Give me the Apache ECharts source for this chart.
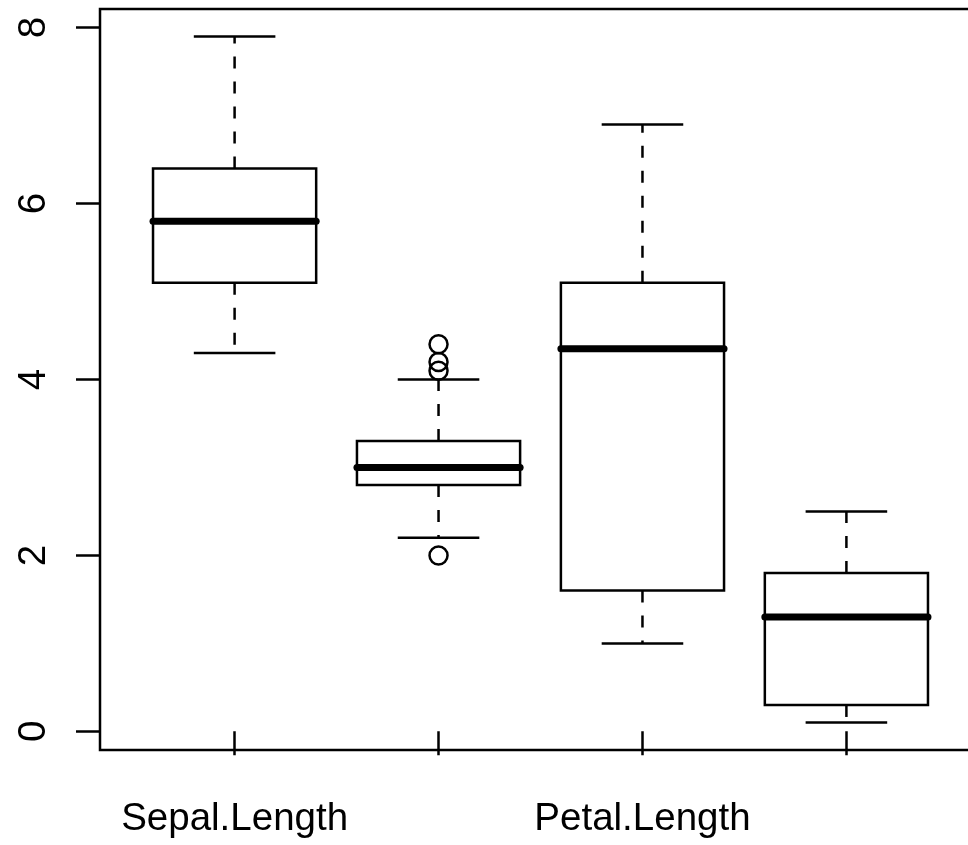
<!DOCTYPE html>
<html>
<head>
<meta charset="utf-8">
<title>Iris measurements</title>
<script src="https://cdn.jsdelivr.net/npm/echarts@6/dist/echarts.min.js"></script>
<style>
  html, body { margin: 0; padding: 0; background: #fff; overflow: hidden; }
  /* The plot frame runs past the right edge of the window, so the canvas is wider */
  #chart { width: 1000px; height: 845px; }
</style>
</head>
<body>
<div id="chart"></div>
<script>
// Variable names along the x axis
const categories = ['Sepal.Length', 'Sepal.Width', 'Petal.Length', 'Petal.Width'];
// Only every other name fits under its box
const shownLabels = [1, 3];
// Five-number summaries: lower whisker, Q1, median, Q3, upper whisker
const lowerWhisker = [4.3, 2.2, 1.0, 0.1];
const lowerQuartile = [5.1, 2.8, 1.6, 0.3];
const medians = [5.8, 3.0, 4.35, 1.3];
const upperQuartile = [6.4, 3.3, 5.1, 1.8];
const upperWhisker = [7.9, 4.0, 6.9, 2.5];
// Points beyond the whiskers: [position, value]
const outliers = [[2, 4.4], [2, 4.1], [2, 4.2], [2, 2.0]];
// Y axis tick labels
const yTicks = [0, 2, 4, 6, 8];

const FONT = '"Liberation Sans", Arial, Helvetica, sans-serif';

const boxData = categories.map((name, i) => [
  i + 1, lowerWhisker[i], lowerQuartile[i], medians[i], upperQuartile[i], upperWhisker[i]
]);

const BOX_HALF = 0.4;   // half box width in axis units
const CAP_HALF = 0.2;   // half whisker-cap width in axis units

function renderBox(params, api) {
  const x = api.value(0);
  const lo = api.value(1), q1 = api.value(2), med = api.value(3), q3 = api.value(4), hi = api.value(5);
  const p = (xx, yy) => api.coord([xx, yy]);
  const thin = { stroke: '#000', lineWidth: 2.5, fill: null };
  const dashed = { stroke: '#000', lineWidth: 2.5, lineDash: [12, 13] };

  const boxTL = p(x - BOX_HALF, q3);
  const boxBR = p(x + BOX_HALF, q1);
  const topA = p(x, q3), topB = p(x, hi);
  const botA = p(x, q1), botB = p(x, lo);
  const capHiL = p(x - CAP_HALF, hi), capHiR = p(x + CAP_HALF, hi);
  const capLoL = p(x - CAP_HALF, lo), capLoR = p(x + CAP_HALF, lo);
  const medL = p(x - BOX_HALF, med), medR = p(x + BOX_HALF, med);

  return {
    type: 'group',
    children: [
      { type: 'line', shape: { x1: topA[0], y1: topA[1], x2: topB[0], y2: topB[1] }, style: dashed },
      { type: 'line', shape: { x1: botA[0], y1: botA[1], x2: botB[0], y2: botB[1] }, style: dashed },
      { type: 'line', shape: { x1: capHiL[0], y1: capHiL[1], x2: capHiR[0], y2: capHiR[1] }, style: thin },
      { type: 'line', shape: { x1: capLoL[0], y1: capLoL[1], x2: capLoR[0], y2: capLoR[1] }, style: thin },
      { type: 'rect', shape: { x: boxTL[0], y: boxTL[1], width: boxBR[0] - boxTL[0], height: boxBR[1] - boxTL[1] }, style: thin },
      { type: 'line', shape: { x1: medL[0], y1: medL[1], x2: medR[0], y2: medR[1] },
        style: { stroke: '#000', lineWidth: 7, lineCap: 'round' } }
    ]
  };
}

const chart = echarts.init(document.getElementById('chart'), null, { renderer: 'canvas' });

chart.setOption({
  animation: false,
  backgroundColor: '#fff',
  grid: {
    left: 100, top: 9, width: 881, height: 741,
    show: true, borderColor: '#000', borderWidth: 2.5, containLabel: false
  },
  xAxis: {
    type: 'value',
    min: 0.34, max: 4.66,
    axisLine: { show: false },
    splitLine: { show: false },
    axisTick: {
      show: true, length: 24, inside: false,
      customValues: categories.map((c, i) => i + 1),
      lineStyle: { color: '#000', width: 2.5 }
    },
    axisLabel: {
      show: true, margin: 50,
      customValues: shownLabels,
      formatter: v => categories[Math.round(v) - 1],
      color: '#000', fontSize: 38.5, fontFamily: FONT
    }
  },
  yAxis: {
    type: 'value',
    min: -0.212, max: 8.212,
    axisLine: { show: false },
    splitLine: { show: false },
    axisTick: {
      show: true, length: 24, inside: false,
      customValues: yTicks,
      lineStyle: { color: '#000', width: 2.5 }
    },
    axisLabel: {
      show: true, margin: 46, rotate: 90,
      customValues: yTicks,
      formatter: v => String(v),
      color: '#000', fontSize: 38.5, fontFamily: FONT
    }
  },
  series: [
    {
      type: 'custom',
      renderItem: renderBox,
      data: boxData,
      encode: { x: 0, y: [1, 2, 3, 4, 5] },
      clip: false
    },
    {
      type: 'scatter',
      data: outliers,
      symbol: 'circle',
      symbolSize: 18,
      itemStyle: { color: 'rgba(0,0,0,0)', borderColor: '#000', borderWidth: 2.5, opacity: 1 }
    }
  ]
});
</script>
</body>
</html>
